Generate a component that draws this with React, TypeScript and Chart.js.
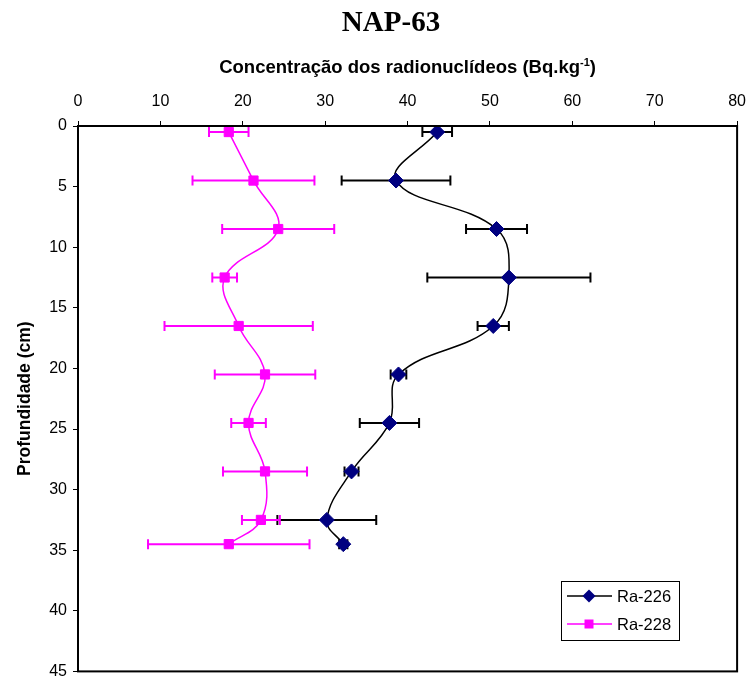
import { useEffect, useRef } from "react";
import { Chart, registerables } from "chart.js";

Chart.register(...registerables);

// Sampling depth (cm) of each layer
const depths = [0.5, 4.5, 8.5, 12.5, 16.5, 20.5, 24.5, 28.5, 32.5, 34.5];
// Ra-226 activity (Bq/kg) and its uncertainty
const ra226 = [43.6, 38.6, 50.8, 52.3, 50.4, 38.9, 37.8, 33.2, 30.2, 32.2];
const ra226Err = [1.8, 6.6, 3.7, 9.9, 1.9, 0.95, 3.6, 0.85, 6.0, 0.5];
// Ra-228 activity (Bq/kg) and its uncertainty
const ra228 = [18.3, 21.3, 24.3, 17.8, 19.5, 22.7, 20.7, 22.7, 22.2, 18.3];
const ra228Err = [2.4, 7.4, 6.8, 1.5, 9.0, 6.1, 2.1, 5.1, 2.3, 9.8];

const seriesNames = ["Ra-226", "Ra-228"];
const chartTitle = "NAP-63";
const xTitle = "Concentração dos radionuclídeos (Bq.kg";
const xTitleSup = "-1";
const yTitle = "Profundidade (cm)";

const SANS = "'Liberation Sans', Arial, sans-serif";
const SERIF = "'Liberation Serif', 'Times New Roman', serif";

const NAVY = "#000080";
const MAGENTA = "#FF00FF";

// The canvas runs a little past the window so the last tick labels'
// overhang falls outside the visible page.
const CANVAS_W = 756;
const CANVAS_H = 687;

// Horizontal error bars with end caps, drawn beneath the markers
const errorBars = {
  id: "errorBars",
  beforeDatasetsDraw(chart: any) {
    const { ctx, scales } = chart;
    const xs = scales.x;
    const ys = scales.y;
    chart.data.datasets.forEach((ds: any) => {
      const errs: number[] = ds.errors;
      if (!errs) return;
      ctx.save();
      ctx.strokeStyle = ds.errorColor;
      ctx.lineWidth = 2;
      ds.data.forEach((p: any, i: number) => {
        const py = ys.getPixelForValue(p.y);
        const lo = xs.getPixelForValue(p.x - errs[i]);
        const hi = xs.getPixelForValue(p.x + errs[i]);
        const cap = 5;
        ctx.beginPath();
        ctx.moveTo(lo, py);
        ctx.lineTo(hi, py);
        ctx.moveTo(lo, py - cap);
        ctx.lineTo(lo, py + cap);
        ctx.moveTo(hi, py - cap);
        ctx.lineTo(hi, py + cap);
        ctx.stroke();
      });
      ctx.restore();
    });
  },
};

// Titles, plot frame and the boxed legend inside the plot
const decorations = {
  id: "decorations",
  afterDraw(chart: any) {
    const { ctx, chartArea } = chart;
    const { left, right, top, bottom } = chartArea;
    ctx.save();

    // plot frame
    ctx.strokeStyle = "#000";
    ctx.lineWidth = 2;
    ctx.strokeRect(left, top, right - left, bottom - top);

    // chart title
    ctx.fillStyle = "#000";
    ctx.textAlign = "center";
    ctx.textBaseline = "alphabetic";
    ctx.font = `bold 29px ${SERIF}`;
    ctx.fillText(chartTitle, 391, 31);

    // x axis title with superscript
    const big = `bold 18.5px ${SANS}`;
    const small = `bold 11px ${SANS}`;
    ctx.font = big;
    const mainW = ctx.measureText(xTitle).width;
    ctx.font = small;
    const supW = ctx.measureText(xTitleSup).width;
    ctx.font = big;
    const closeW = ctx.measureText(")").width;
    const total = mainW + supW + closeW;
    let x0 = (left + right) / 2 - total / 2;
    const base = 73;
    ctx.textAlign = "left";
    ctx.fillText(xTitle, x0, base);
    x0 += mainW;
    ctx.font = small;
    ctx.fillText(xTitleSup, x0, base - 7);
    x0 += supW;
    ctx.font = big;
    ctx.fillText(")", x0, base);

    // y axis title
    ctx.save();
    ctx.translate(25, (top + bottom) / 2);
    ctx.rotate(-Math.PI / 2);
    ctx.textAlign = "center";
    ctx.textBaseline = "middle";
    ctx.font = `bold 17.5px ${SANS}`;
    ctx.fillText(yTitle, 0, 0);
    ctx.restore();

    // legend
    const lx = 561, ly = 581, lw = 118, lh = 59;
    ctx.fillStyle = "#fff";
    ctx.fillRect(lx, ly, lw, lh);
    ctx.strokeStyle = "#000";
    ctx.lineWidth = 1;
    ctx.strokeRect(lx + 0.5, ly + 0.5, lw, lh);
    chart.data.datasets.forEach((ds: any, i: number) => {
      const yy = ly + 15 + i * 28;
      ctx.strokeStyle = ds.borderColor;
      ctx.lineWidth = 1.5;
      ctx.beginPath();
      ctx.moveTo(lx + 6, yy);
      ctx.lineTo(lx + 51, yy);
      ctx.stroke();
      ctx.fillStyle = ds.pointBackgroundColor;
      const cx = lx + 28;
      ctx.beginPath();
      if (ds.pointStyle === "rectRot") {
        ctx.moveTo(cx, yy - 6.5);
        ctx.lineTo(cx + 6.5, yy);
        ctx.lineTo(cx, yy + 6.5);
        ctx.lineTo(cx - 6.5, yy);
        ctx.closePath();
      } else {
        ctx.rect(cx - 4.5, yy - 4.5, 9, 9);
      }
      ctx.fill();
      ctx.fillStyle = "#000";
      ctx.font = `16.5px ${SANS}`;
      ctx.textAlign = "left";
      ctx.textBaseline = "middle";
      ctx.fillText(ds.label, lx + 56, yy + 1);
    });

    ctx.restore();
  },
};

export default function App() {
  const ref = useRef<HTMLCanvasElement | null>(null);

  useEffect(() => {
    if (!ref.current) return;
    const toPoints = (vals: number[]) => vals.map((v, i) => ({ x: v, y: depths[i] }));

    const chart = new Chart(ref.current, {
      type: "scatter",
      data: {
        datasets: [
          {
            label: seriesNames[0],
            data: toPoints(ra226),
            showLine: true,
            tension: 0.4,
            borderColor: "#000",
            borderWidth: 1.5,
            pointStyle: "rectRot",
            pointRadius: 7.5,
            pointHoverRadius: 7.5,
            pointBackgroundColor: NAVY,
            pointBorderColor: NAVY,
            pointBorderWidth: 1,
            errors: ra226Err,
            errorColor: "#000",
          } as any,
          {
            label: seriesNames[1],
            data: toPoints(ra228),
            showLine: true,
            tension: 0.4,
            borderColor: MAGENTA,
            borderWidth: 1.5,
            pointStyle: "rect",
            pointRadius: 6.5,
            pointHoverRadius: 6.5,
            pointBackgroundColor: MAGENTA,
            pointBorderColor: MAGENTA,
            pointBorderWidth: 1,
            errors: ra228Err,
            errorColor: MAGENTA,
          } as any,
        ],
      },
      options: {
        animation: false,
        responsive: false,
        maintainAspectRatio: false,
        events: [],
        layout: { padding: 0 },
        plugins: {
          legend: { display: false },
          title: { display: false },
          tooltip: { enabled: false },
        },
        scales: {
          x: {
            type: "linear",
            position: "top",
            min: 0,
            max: 80,
            ticks: {
              stepSize: 10,
              color: "#000",
              padding: 10,
              font: { family: SANS, size: 16 },
            },
            grid: {
              drawOnChartArea: false,
              drawTicks: true,
              tickLength: 5,
              color: "#000",
            },
            border: { display: true, color: "#000", width: 2 },
            afterFit(scale: any) {
              scale.height = 126;
            },
          },
          y: {
            type: "linear",
            reverse: true,
            min: 0,
            max: 45,
            ticks: {
              stepSize: 5,
              color: "#000",
              padding: 6,
              font: { family: SANS, size: 16 },
            },
            grid: {
              drawOnChartArea: false,
              drawTicks: true,
              tickLength: 5,
              color: "#000",
            },
            border: { display: true, color: "#000", width: 2 },
            afterFit(scale: any) {
              scale.width = 78;
            },
          },
        },
      } as any,
      plugins: [errorBars, decorations],
    });

    return () => chart.destroy();
  }, []);

  return (
    <canvas
      ref={ref}
      width={CANVAS_W}
      height={CANVAS_H}
      style={{
        position: "fixed",
        left: 0,
        top: 0,
        width: CANVAS_W,
        height: CANVAS_H,
        background: "#fff",
      }}
    />
  );
}
